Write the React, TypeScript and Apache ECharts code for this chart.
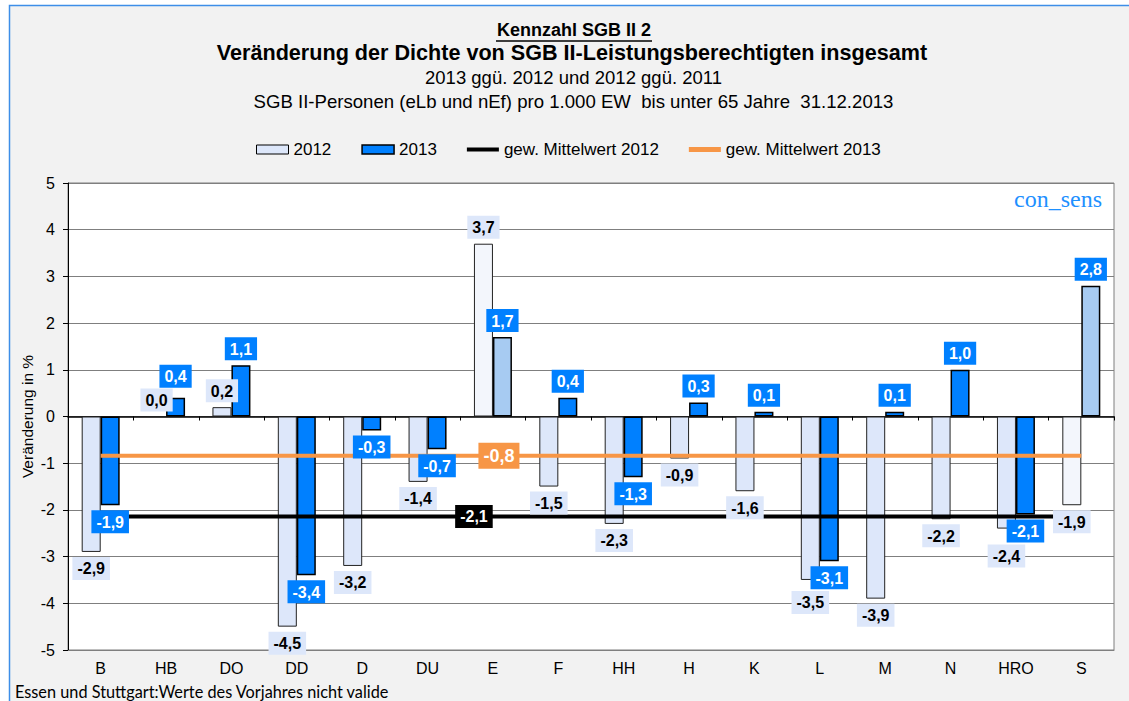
import React, { useEffect, useRef } from 'react';
import * as echarts from 'echarts';

// ---------- data ----------
const categories = ['B', 'HB', 'DO', 'DD', 'D', 'DU', 'E', 'F', 'HH', 'H', 'K', 'L', 'M', 'N', 'HRO', 'S'];
const values2012 = [-2.9, 0.0, 0.2, -4.5, -3.2, -1.4, 3.7, -1.5, -2.3, -0.9, -1.6, -3.5, -3.9, -2.2, -2.4, -1.9];
const values2013 = [-1.9, 0.4, 1.1, -3.4, -0.3, -0.7, 1.7, 0.4, -1.3, 0.3, 0.1, -3.1, 0.1, 1.0, -2.1, 2.8];
const mean2012 = -2.14;
const mean2013 = -0.84;
const meanLabelCategory = 'E';
const notValidPrevYear = ['E', 'S'];
const seriesNames = ['2012', '2013', 'gew. Mittelwert 2012', 'gew. Mittelwert 2013'];
const yMin = -5;
const yMax = 5;
const yInterval = 1;
const titleLines = [
  'Kennzahl SGB II 2',
  'Veränderung der Dichte von SGB II-Leistungsberechtigten insgesamt',
  '2013 ggü. 2012 und 2012 ggü. 2011',
  'SGB II-Personen (eLb und nEf) pro 1.000 EW  bis unter 65 Jahre  31.12.2013',
];
const yAxisTitle = 'Veränderung in %';
const brandText = 'con_sens';
const footnote = 'Essen und Stuttgart:Werte des Vorjahres nicht valide';

// label distance tweaks (styling only)
const labelDistance2012: Record<string, number> = { L: 11, HRO: 16 };
const labelDistance2013: Record<string, number> = { HB: 10 };

// ---------- styles ----------
const FONT = '"Liberation Sans", Arial, Helvetica, sans-serif';
const C2012 = '#dde7fa';
const C2013 = '#0080ff';
const C2012_PAT = '#f3f6fc';
const C2013_PAT = '#a7cbf2';
const C_MEAN12 = '#000000';
const C_MEAN13 = '#f79646';
const GRID_COLOR = '#7f7f7f';

const fmt = (v: number) => v.toFixed(1).replace('.', ',');

export default function App() {
  const ref = useRef<HTMLDivElement>(null);

  useEffect(() => {
    if (!ref.current) return;
    const chart = echarts.init(ref.current, null, { renderer: 'svg' });

    const barData = (vals: number[], patColor: string) =>
      vals.map((v, i) =>
        notValidPrevYear.includes(categories[i]) ? { value: v, itemStyle: { color: patColor } } : v
      );

    const labelData = (vals: number[], dist: Record<string, number>) =>
      vals.map((v, i) => ({
        value: v,
        label: { position: v < 0 ? 'bottom' : 'top', distance: dist[categories[i]] ?? 5 },
      }));

    const baseLabel = {
      show: true,
      fontSize: 16,
      fontWeight: 'bold',
      fontFamily: FONT,
      padding: [4, 5, 3, 5],
      lineHeight: 16,
      formatter: (p: any) => fmt(p.value),
    };

    const option: any = {
      animation: false,
      backgroundColor: '#ffffff',
      grid: {
        left: 68,
        right: 15,
        top: 183,
        bottom: 51,
        show: true,
        backgroundColor: '#ffffff',
        borderColor: GRID_COLOR,
        borderWidth: 1,
        containLabel: false,
      },
      legend: {
        left: 256,
        top: 141,
        padding: 0,
        itemWidth: 32,
        itemHeight: 9,
        itemGap: 30,
        selectedMode: false,
        textStyle: { fontSize: 17, color: '#000', fontFamily: FONT },
        data: [
          { name: seriesNames[0], icon: 'rect', itemStyle: { color: C2012, borderColor: '#000', borderWidth: 1 } },
          { name: seriesNames[1], icon: 'rect', itemStyle: { color: C2013, borderColor: '#000', borderWidth: 1.5 } },
          { name: seriesNames[2], icon: 'path://M0,0H32V4H0Z', itemStyle: { color: C_MEAN12 } },
          { name: seriesNames[3], icon: 'path://M0,0H32V5H0Z', itemStyle: { color: C_MEAN13 } },
        ],
      },
      xAxis: [
        {
          type: 'category',
          data: categories,
          position: 'bottom',
          axisLine: { show: true, onZero: false, lineStyle: { color: GRID_COLOR, width: 1 } },
          axisTick: { show: false },
          axisLabel: { fontSize: 16, color: '#000', fontFamily: FONT, margin: 10 },
          splitLine: { show: false },
        },
        {
          type: 'category',
          data: categories,
          position: 'bottom',
          axisLine: { show: true, onZero: true, onZeroAxisIndex: 0, lineStyle: { color: '#000', width: 1.5 } },
          axisTick: { show: true, length: 4, lineStyle: { color: '#000', width: 1 } },
          axisLabel: { show: false },
          splitLine: { show: false },
        },
      ],
      yAxis: {
        type: 'value',
        min: yMin,
        max: yMax,
        interval: yInterval,
        name: yAxisTitle,
        nameLocation: 'middle',
        nameRotate: 90,
        nameGap: 33,
        nameMoveOverlap: false,
        nameTextStyle: { fontSize: 15.5, color: '#000', fontFamily: FONT },
        axisLine: { show: true, lineStyle: { color: '#000', width: 1 } },
        axisTick: { show: true, length: 5, lineStyle: { color: '#000', width: 1 } },
        axisLabel: { fontSize: 16, color: '#000', fontFamily: FONT, margin: 13 },
        splitLine: { show: true, lineStyle: { color: GRID_COLOR, width: 1 } },
      },
      series: [
        {
          name: seriesNames[0],
          type: 'bar',
          xAxisIndex: 0,
          z: 2,
          barWidth: 19,
          barGap: '0%',
          data: barData(values2012, C2012_PAT),
          itemStyle: { color: C2012, borderColor: '#222', borderWidth: 1 },
          emphasis: { disabled: true },
        },
        {
          name: seriesNames[1],
          type: 'bar',
          xAxisIndex: 0,
          z: 2,
          barWidth: 19,
          barGap: '0%',
          data: barData(values2013, C2013_PAT),
          itemStyle: { color: C2013, borderColor: '#000', borderWidth: 1.5 },
          emphasis: { disabled: true },
        },
        {
          name: seriesNames[2],
          type: 'line',
          xAxisIndex: 0,
          z: 3,
          symbol: 'none',
          data: categories.map(() => mean2012),
          itemStyle: { color: C_MEAN12 },
          lineStyle: { color: C_MEAN12, width: 4 },
          emphasis: { disabled: true },
          markPoint: {
            symbol: 'rect',
            symbolSize: 1,
            silent: true,
            itemStyle: { color: 'rgba(0,0,0,0)' },
            label: {
              show: true,
              position: 'inside',
              formatter: fmt(mean2012),
              color: '#fff',
              fontWeight: 'bold',
              fontSize: 16,
              fontFamily: FONT,
              backgroundColor: '#000',
              padding: [4, 5, 3, 5],
              lineHeight: 16,
              offset: [-19, 0],
            },
            data: [{ coord: [meanLabelCategory, mean2012] }],
          },
        },
        {
          name: seriesNames[3],
          type: 'line',
          xAxisIndex: 0,
          z: 3,
          symbol: 'none',
          data: categories.map(() => mean2013),
          itemStyle: { color: C_MEAN13 },
          lineStyle: { color: C_MEAN13, width: 4 },
          emphasis: { disabled: true },
          markPoint: {
            symbol: 'rect',
            symbolSize: 1,
            silent: true,
            itemStyle: { color: 'rgba(0,0,0,0)' },
            label: {
              show: true,
              position: 'inside',
              formatter: fmt(mean2013),
              color: '#fff',
              fontWeight: 'bold',
              fontSize: 18,
              fontFamily: FONT,
              backgroundColor: C_MEAN13,
              padding: [4, 5, 4, 5],
              lineHeight: 18,
              offset: [6, 0],
            },
            data: [{ coord: [meanLabelCategory, mean2013] }],
          },
        },
        {
          name: '_labels2012',
          type: 'bar',
          xAxisIndex: 1,
          z: 5,
          barWidth: 19,
          barGap: '0%',
          silent: true,
          data: labelData(values2012, labelDistance2012),
          itemStyle: { color: 'rgba(0,0,0,0)', borderWidth: 0 },
          label: { ...baseLabel, color: '#000', backgroundColor: C2012 },
          emphasis: { disabled: true },
        },
        {
          name: '_labels2013',
          type: 'bar',
          xAxisIndex: 1,
          z: 5,
          barWidth: 19,
          barGap: '0%',
          silent: true,
          data: labelData(values2013, labelDistance2013),
          itemStyle: { color: 'rgba(0,0,0,0)', borderWidth: 0 },
          label: { ...baseLabel, color: '#fff', backgroundColor: C2013 },
          emphasis: { disabled: true },
        },
      ],
      graphic: [
        {
          type: 'rect',
          z: -100,
          silent: true,
          shape: { x: 9.5, y: 5.5, width: 1300, height: 900 },
          style: { fill: '#f2f2f2', stroke: '#3d8ee8', lineWidth: 1.5 },
        },
        {
          type: 'text',
          z: 100,
          x: 574,
          y: 30,
          style: { text: titleLines[0], fontSize: 18, fontWeight: 'bold', fontFamily: FONT, fill: '#000', align: 'center', verticalAlign: 'middle' },
        },
        {
          type: 'line',
          z: 100,
          shape: { x1: 496, y1: 41, x2: 652, y2: 41 },
          style: { stroke: '#000', lineWidth: 1.5 },
        },
        {
          type: 'text',
          z: 100,
          x: 572,
          y: 52,
          style: { text: titleLines[1], fontSize: 21.6, fontWeight: 'bold', fontFamily: FONT, fill: '#000', align: 'center', verticalAlign: 'middle' },
        },
        {
          type: 'text',
          z: 100,
          x: 573.5,
          y: 77,
          style: { text: titleLines[2], fontSize: 18.5, fontFamily: FONT, fill: '#000', align: 'center', verticalAlign: 'middle' },
        },
        {
          type: 'text',
          z: 100,
          x: 573.5,
          y: 101,
          style: { text: titleLines[3], fontSize: 18.6, fontFamily: FONT, fill: '#000', align: 'center', verticalAlign: 'middle' },
        },
        {
          type: 'text',
          z: 100,
          x: 1102,
          y: 199,
          style: { text: brandText, fontSize: 24, fontFamily: '"Liberation Serif", "Times New Roman", serif', fill: '#1e90ff', align: 'right', verticalAlign: 'middle' },
        },
        {
          type: 'text',
          z: 100,
          x: 15,
          y: 691,
          style: { text: footnote, fontSize: 16.3, fontFamily: 'Lato, "Open Sans", sans-serif', fill: '#000', align: 'left', verticalAlign: 'middle' },
        },
      ],
    };

    chart.setOption(option);
    return () => chart.dispose();
  }, []);

  return (
    <div
      ref={ref}
      style={{ position: 'absolute', left: 0, top: 0, width: 1129, height: 701, background: '#fff' }}
    />
  );
}
